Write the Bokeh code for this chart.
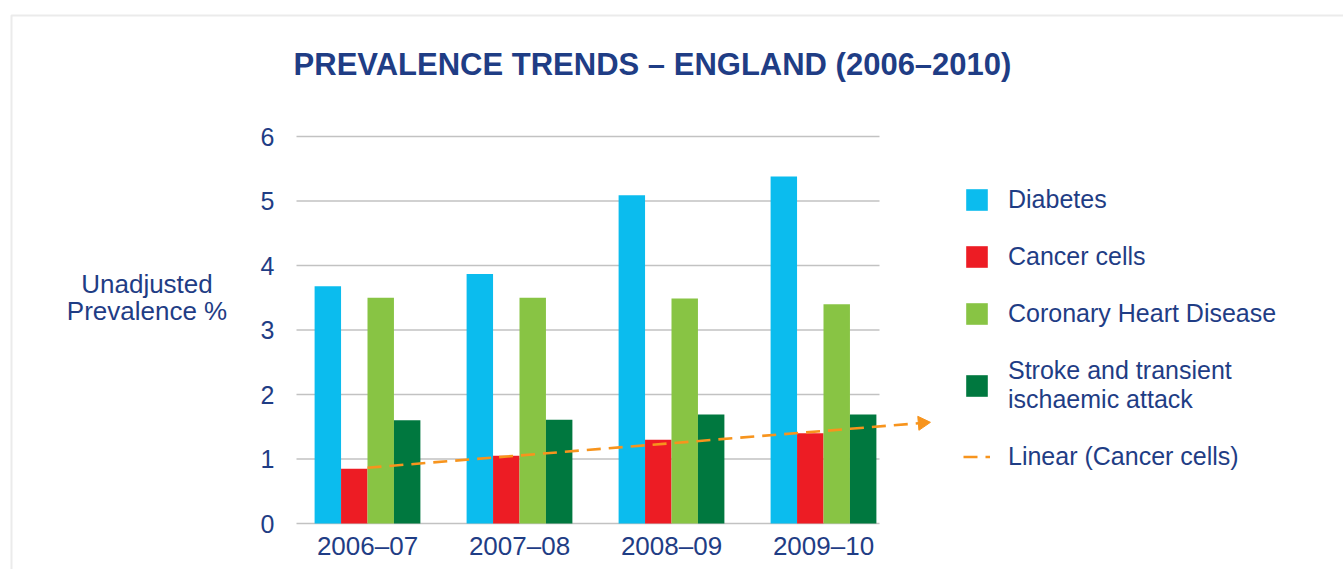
import numpy as np
from bokeh.plotting import figure
from bokeh.models import (Range1d, FixedTicker, Label, Legend, LegendItem,
                          BoxAnnotation, LinearAxis)
from bokeh.embed import file_html
from bokeh.resources import INLINE
from bokeh.core.properties import value

# ---------------- data ----------------
categories = ["2006–07", "2007–08", "2008–09", "2009–10"]
diabetes = [3.68, 3.87, 5.09, 5.38]
cancer = [0.85, 1.05, 1.30, 1.40]
chd = [3.50, 3.50, 3.49, 3.40]
stroke = [1.60, 1.61, 1.69, 1.69]
series_names = ["Diabetes", "Cancer cells", "Coronary Heart Disease",
                "Stroke and transient\nischaemic attack"]
trend_name = "Linear (Cancer cells)"
y_ticks = [0, 1, 2, 3, 4, 5, 6]
title_text = "PREVALENCE TRENDS – ENGLAND (2006–2010)"
y_label = "Unadjusted\nPrevalence %"

# ---------------- style / layout ----------------
NAVY = "#1f3d85"
COLORS = ["#0bbcee", "#ed1c24", "#88c444", "#00783f"]
ORANGE = "#f7941d"
GRID = "#c2c2c2"
FONT = "Liberation Sans"

FIG_W, FIG_H = 1343, 569
X0_PX, Y0_PX = 367.0, 523.0      # pixel position of first category / value 0
PX_PER_X, PX_PER_Y = 152.0, 64.5
GRID_LEFT_PX, GRID_RIGHT_PX = 296.0, 879.0
BAR_W = 0.174
TREND_FORWARD = 0.69


def sx(px):  # page x -> screen units
    return px


def sy(py):  # page y -> screen units (from bottom)
    return FIG_H - py


def dx(px):  # page x -> data x
    return (px - X0_PX) / PX_PER_X


x_start, x_end = dx(0), dx(FIG_W)
y_start, y_end = -(FIG_H - Y0_PX) / PX_PER_Y, Y0_PX / PX_PER_Y

p = figure(width=FIG_W, height=FIG_H, output_backend="svg", toolbar_location=None,
           x_range=Range1d(x_start, x_end), y_range=Range1d(y_start, y_end),
           x_axis_location=None, y_axis_location=None, min_border=0)
p.min_border_left = p.min_border_right = p.min_border_top = p.min_border_bottom = 0
p.xgrid.visible = False
p.ygrid.visible = False
p.outline_line_color = None
p.background_fill_color = "white"
p.border_fill_color = "white"

# gridlines
gl, gr = dx(GRID_LEFT_PX), dx(GRID_RIGHT_PX)
p.segment(x0=[gl] * len(y_ticks), x1=[gr] * len(y_ticks),
          y0=y_ticks, y1=y_ticks, line_color=GRID, line_width=1.6)

idx = np.arange(len(categories))
renderers = []
for k, (vals, col) in enumerate(zip([diabetes, cancer, chd, stroke], COLORS)):
    xs = idx + (k - 1.5) * BAR_W
    r = p.vbar(x=xs, top=vals, bottom=0, width=BAR_W,
               fill_color=col, line_color=None)
    renderers.append(r)

# linear trend of cancer cells, forecast forward
slope, intercept = np.polyfit(idx, cancer, 1)
x_tip = idx[-1] + TREND_FORWARD
x_head = x_tip - 6.0 / PX_PER_X
line_r = p.line(x=[idx[0], x_head],
                y=[intercept + slope * idx[0], intercept + slope * x_head],
                line_color=ORANGE, line_width=2.6, line_dash="14 8")
tilt = np.arctan(slope * PX_PER_Y / PX_PER_X)
p.scatter(x=[x_head], y=[intercept + slope * x_head], marker="triangle",
          size=14, angle=-np.pi / 2 + tilt,
          fill_color=ORANGE, line_color=ORANGE)

# axes at fixed locations inside the canvas
yax = LinearAxis(ticker=FixedTicker(ticks=y_ticks), fixed_location=gl)
xax = LinearAxis(ticker=FixedTicker(ticks=[int(i) for i in idx]), fixed_location=0)
xax.major_label_overrides = {int(i): c for i, c in enumerate(categories)}
for ax in (xax, yax):
    ax.axis_line_color = None
    ax.major_tick_line_color = None
    ax.minor_tick_line_color = None
    ax.major_label_text_color = NAVY
    ax.major_label_text_font = FONT
yax.major_label_text_font_size = "25px"
xax.major_label_text_font_size = "26px"
yax.major_label_standoff = 16
xax.major_label_standoff = 1
p.add_layout(yax, "left")
p.add_layout(xax, "below")

# legend
items = [LegendItem(label=value(n), renderers=[r]) for n, r in zip(series_names, renderers)]
items.append(LegendItem(label=value(trend_name), renderers=[line_r]))
legend = Legend(items=items, location=(sx(963), sy(471)), orientation="vertical",
                glyph_width=27, glyph_height=27, label_standoff=18, spacing=28,
                padding=0, margin=0, border_line_color=None,
                background_fill_alpha=0, label_height=27,
                label_text_font_size="25px", label_text_color=NAVY,
                label_text_font=FONT, label_text_line_height=1.0)
p.add_layout(legend)

# title and y label
p.add_layout(Label(x=sx(652), y=sy(64), x_units="screen", y_units="screen", text=title_text,
                   text_align="center", text_baseline="middle", text_font=FONT,
                   text_font_size="31px", text_font_style="bold", text_color=NAVY))
for i, line in enumerate(y_label.split("\n")):
    p.add_layout(Label(x=sx(146.5), y=sy(283 + 27 * i), x_units="screen", y_units="screen",
                       text=line, text_align="center", text_baseline="middle",
                       text_font=FONT, text_font_size="26px", text_color=NAVY))

# outer frame line (top and left)
p.add_layout(BoxAnnotation(left=sx(11), right=sx(FIG_W + 50), top=sy(15), bottom=sy(FIG_H + 50),
                           left_units="screen", right_units="screen",
                           top_units="screen", bottom_units="screen",
                           fill_alpha=0, line_color="#bdbdbd", line_width=2))

open("out.html", "w").write(file_html(p, INLINE))
